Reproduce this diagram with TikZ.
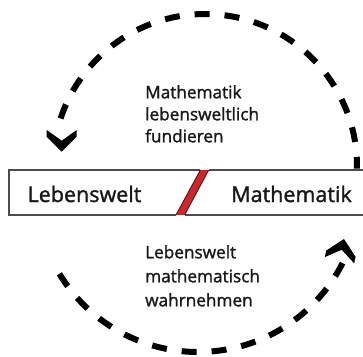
\documentclass[tikz,border=0pt]{standalone}
\usepackage{fontspec}
\setmainfont{Open Sans}[FakeBold=1.5]
\definecolor{slashred}{RGB}{215,35,40}
\begin{document}
\begin{tikzpicture}[x=1pt,y=-1pt,
  frame/.style={draw=black!70, line width=1.2pt},
  cutedge/.style={draw=black!85, line width=0.9pt},
  loopline/.style={line width=6pt, dash pattern=on 15pt off 15pt},
  bigtext/.style={font=\fontsize{21.5}{26}\selectfont, text=black!90, inner sep=0pt, anchor=base},
  smalltext/.style={font=\fontsize{17.2}{22}\selectfont, text=black!90, align=left, inner sep=0pt, anchor=north west},
  chevron/.pic={\fill (0,0) -- (-15,15) -- (-21.7,15) -- (-11,0) -- (-21.7,-15) -- (-15,-15) -- cycle;}]
\path[use as bounding box] (0,0) rectangle (363,356);
\clip (0,0) rectangle (363,356);
% frame halves
\draw[frame] (200.4,170) -- (9,170) -- (9,215) -- (176,215);
\draw[frame] (370,170) -- (208.7,170);
\draw[frame] (184.6,215) -- (370,215);
% red slash
\fill[slashred] (176,215) -- (200.4,170) -- (208.7,170) -- (184.6,215) -- cycle;
\draw[cutedge] (176,215) -- (200.4,170);
\draw[cutedge] (184.6,215) -- (208.7,170);
% labels
\node[bigtext] (leb) at (84.5,202) {Lebenswelt};
\node[bigtext] (mat) at (291.5,202) {Mathematik};
\node[smalltext] (fund) at (145,85) {Mathematik\\lebensweltlich\\fundieren};
\node[smalltext, font=\fontsize{17.2}{24}\selectfont] (wahr) at (145,245) {Lebenswelt\\mathematisch\\wahrnehmen};
% dashed loop arcs
\draw[loopline, dash phase=3.2pt] plot[domain=-1:161.8, samples=120, variable=\t] ({205+152*cos(\t)},{166-152*sin(\t)});
\draw[loopline] plot[domain=211.15:333.2, samples=120, variable=\t] ({198+162*cos(\t)},{190-162*sin(\t)});
% arrow heads
\pic[rotate=-90] at (61.7,151.7) {chevron};
\pic[rotate=78] at (344,239) {chevron};
\end{tikzpicture}
\end{document}
